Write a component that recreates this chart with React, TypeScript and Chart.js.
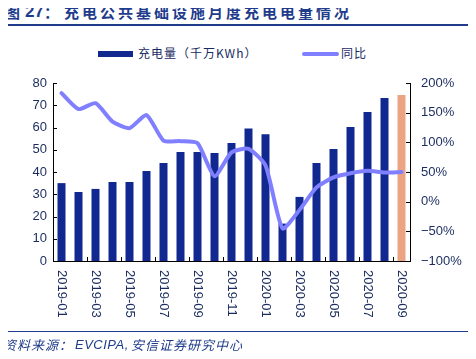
import React, { useEffect, useRef } from 'react';
import { Chart, registerables } from 'chart.js';

Chart.register(...registerables);

const months = [
  '2019-01', '2019-02', '2019-03', '2019-04', '2019-05', '2019-06', '2019-07',
  '2019-08', '2019-09', '2019-10', '2019-11', '2019-12', '2020-01', '2020-02',
  '2020-03', '2020-04', '2020-05', '2020-06', '2020-07', '2020-08', '2020-09',
];
// 充电量（千万KWh）
const chargeVolume = [35, 31, 32.4, 35.5, 35.5, 40.5, 44, 49, 49, 48.5, 53, 59.5, 57, 16.8, 28.8, 44, 50.3, 60.2, 67, 73.3, 74.6];
// 同比 (%)
const yoyPct = [183, 156, 166, 135, 124, 146, 103, 102, 98.5, 43, 83, 89, 61, -45, -14, 24, 41, 48, 52, 49, 50];

const leftMin = 0;
const leftMax = 80;
const leftStep = 10;
const rightMin = -100;
const rightMax = 200;
const rightStep = 50;

const NAVY = '#10288F';
const ORANGE = '#EBA384';
const LINE = '#7F7FFF';
const TEXT = '#1A2B5F';
const TITLE = '#1F3C8C';
const NUM_FONT = '"Liberation Sans", Arial, sans-serif';
const CJK_FONT = '"Noto Sans CJK SC", "Noto Sans", sans-serif';

const axisDecor = {
  id: 'axisDecor',
  afterDraw(chart: any) {
    const { ctx, chartArea, scales } = chart;
    const xs = scales.x;
    const yl = scales.y;
    const yr = scales.y1;
    ctx.save();
    ctx.strokeStyle = '#000';
    ctx.lineWidth = 1;
    ctx.beginPath();
    yl.ticks.forEach((_t: any, i: number) => {
      const py = Math.round(yl.getPixelForTick(i)) + 0.5;
      ctx.moveTo(chartArea.left, py);
      ctx.lineTo(chartArea.left + 4, py);
    });
    yr.ticks.forEach((_t: any, i: number) => {
      const py = Math.round(yr.getPixelForTick(i)) + 0.5;
      ctx.moveTo(chartArea.right, py);
      ctx.lineTo(chartArea.right - 4, py);
    });
    const n = months.length;
    const w = (chartArea.right - chartArea.left) / n;
    for (let i = 2; i < n; i += 2) {
      const px = Math.round(xs.getPixelForValue(i) - w / 2) + 0.5;
      ctx.moveTo(px, chartArea.bottom);
      ctx.lineTo(px, chartArea.bottom - 4);
    }
    ctx.stroke();

    ctx.fillStyle = TEXT;
    ctx.font = `13px ${NUM_FONT}`;
    ctx.textAlign = 'left';
    ctx.textBaseline = 'middle';
    for (let i = 0; i < n; i += 2) {
      const px = xs.getPixelForValue(i);
      ctx.save();
      ctx.translate(px, chartArea.bottom + 9);
      ctx.rotate(Math.PI / 2);
      ctx.fillText(months[i], 0, 0);
      ctx.restore();
    }
    ctx.restore();
  },
};

export default function App() {
  const canvasRef = useRef<HTMLCanvasElement | null>(null);

  useEffect(() => {
    if (!canvasRef.current) return;
    const barColors = months.map((_m, i) => (i === months.length - 1 ? ORANGE : NAVY));
    const chart = new Chart(canvasRef.current, {
      type: 'bar',
      data: {
        labels: months,
        datasets: [
          {
            type: 'line',
            label: '同比',
            data: yoyPct,
            yAxisID: 'y1',
            borderColor: LINE,
            backgroundColor: LINE,
            borderWidth: 4,
            pointRadius: 0,
            tension: 0.2,
            borderJoinStyle: 'round',
            borderCapStyle: 'round',
            order: 0,
          } as any,
          {
            type: 'bar',
            label: '充电量（千万KWh）',
            data: chargeVolume,
            yAxisID: 'y',
            backgroundColor: barColors,
            barPercentage: 0.47,
            categoryPercentage: 1,
            order: 1,
          } as any,
        ],
      },
      plugins: [axisDecor],
      options: {
        animation: false,
        responsive: false,
        devicePixelRatio: 1,
        layout: { padding: { top: 83, left: 0, right: 0, bottom: 0 } },
        plugins: {
          legend: { display: false },
          tooltip: { enabled: false },
          title: { display: false },
        },
        scales: {
          x: {
            type: 'category',
            offset: true,
            grid: { display: false, drawTicks: false },
            border: { display: true, color: '#000', width: 1 },
            ticks: { display: false },
            afterFit: (s: any) => { s.height = 98; },
          },
          y: {
            type: 'linear',
            position: 'left',
            min: leftMin,
            max: leftMax,
            grid: { display: false, drawTicks: false },
            border: { display: true, color: '#000', width: 1 },
            ticks: {
              stepSize: leftStep,
              padding: 6,
              color: TEXT,
              font: { family: NUM_FONT, size: 13 },
            },
            afterFit: (s: any) => { s.width = 53; },
          },
          y1: {
            type: 'linear',
            position: 'right',
            min: rightMin,
            max: rightMax,
            grid: { display: false, drawTicks: false },
            border: { display: true, color: '#000', width: 1 },
            ticks: {
              stepSize: rightStep,
              padding: 11,
              color: TEXT,
              font: { family: NUM_FONT, size: 13 },
              callback: (v: any) => `${String(v).replace('-', '\u2212')}%`,
            },
            afterFit: (s: any) => { s.width = 66; },
          },
        },
      } as any,
    });
    return () => chart.destroy();
  }, []);

  const abs = (left: number, top: number, extra: any = {}) => ({
    position: 'absolute' as const, left, top, whiteSpace: 'nowrap' as const, ...extra,
  });

  return (
    <div style={{ position: 'relative', width: 476, height: 359, margin: -8, background: '#fff', overflow: 'hidden' }}>
      <div style={abs(5, 1, { color: TITLE, fontWeight: 'bold', fontFamily: CJK_FONT, fontSize: 15, lineHeight: '22px' })}>图</div>
      <div style={abs(25, 1, { color: TITLE, fontWeight: 'bold', fontFamily: NUM_FONT, fontSize: 17, lineHeight: '22px' })}>27</div>
      <div style={abs(44, 1, { color: TITLE, fontWeight: 'bold', fontFamily: CJK_FONT, fontSize: 15, lineHeight: '22px' })}>：</div>
      <div style={abs(64, 1, { color: TITLE, fontWeight: 'bold', fontFamily: CJK_FONT, fontSize: 15, lineHeight: '22px', letterSpacing: 3 })}>
        充电公共基础设施月度充电电量情况
      </div>
      <div style={{ position: 'absolute', left: 2, top: 24, width: 466, height: 2, background: TITLE }} />

      <div style={{ position: 'absolute', left: 98, top: 51, width: 35, height: 6, background: NAVY }} />
      <div style={abs(138, 45, { color: TEXT, fontFamily: CJK_FONT, fontSize: 12, letterSpacing: 1, lineHeight: '16px' })}>
        充电量（千万KWh）
      </div>
      <div style={{ position: 'absolute', left: 302, top: 52, width: 37, height: 4, borderRadius: 2, background: LINE }} />
      <div style={abs(341, 45, { color: TEXT, fontFamily: CJK_FONT, fontSize: 12, letterSpacing: 1, lineHeight: '16px' })}>
        同比
      </div>

      <canvas ref={canvasRef} width={476} height={359} style={{ position: 'absolute', left: 0, top: 0 }} />

      <div style={{ position: 'absolute', left: 2, top: 331, width: 466, height: 1, background: TITLE }} />
      <div style={abs(3, 336, { color: TITLE, fontFamily: CJK_FONT, fontSize: 13, fontStyle: 'italic', letterSpacing: 1, lineHeight: '18px' })}>
        资料来源：
      </div>
      <div style={abs(75, 336, { color: TITLE, fontFamily: NUM_FONT, fontSize: 13, fontStyle: 'italic', letterSpacing: 0.5, lineHeight: '18px' })}>
        EVCIPA,
      </div>
      <div style={abs(131, 336, { color: TITLE, fontFamily: CJK_FONT, fontSize: 13, fontStyle: 'italic', letterSpacing: 1, lineHeight: '18px' })}>
        安信证券研究中心
      </div>
    </div>
  );
}
